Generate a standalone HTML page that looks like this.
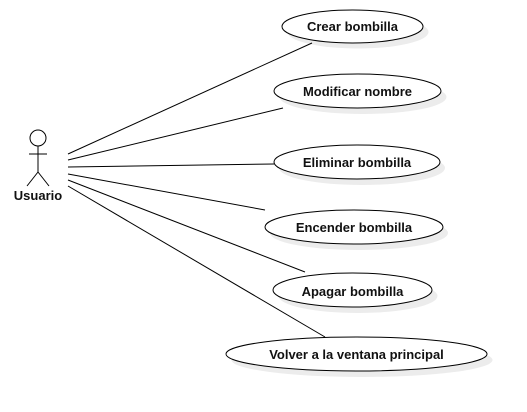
<!DOCTYPE html>
<html><head><style>body{margin:0;background:#fff}svg{display:block}text{font-family:"Liberation Sans",sans-serif;font-weight:bold;font-size:13px;fill:#111}</style></head><body>
<svg width="527" height="412" viewBox="0 0 527 412">
<g fill="#ececec" stroke="none">
<ellipse cx="358" cy="32" rx="70.5" ry="16.5"/>
<ellipse cx="363" cy="97" rx="83.5" ry="17"/>
<ellipse cx="362" cy="168" rx="83" ry="17"/>
<ellipse cx="359" cy="233" rx="89" ry="17"/>
<ellipse cx="358" cy="296" rx="79.5" ry="17"/>
<ellipse cx="362" cy="360" rx="130.5" ry="17"/>
</g>
<g fill="#fff" stroke="#000" stroke-width="1">
<ellipse cx="352.5" cy="26.5" rx="70.5" ry="16.5"/>
<ellipse cx="357.5" cy="91" rx="83.5" ry="17"/>
<ellipse cx="357" cy="162" rx="83" ry="17"/>
<ellipse cx="354" cy="227" rx="89" ry="17"/>
<ellipse cx="352.5" cy="290" rx="79.5" ry="17"/>
<ellipse cx="356.5" cy="354" rx="130.5" ry="17"/>
</g>
<g stroke="#000" stroke-width="1" fill="none">
<line x1="68" y1="154" x2="312" y2="43"/>
<line x1="68" y1="160" x2="283" y2="108"/>
<line x1="68" y1="167" x2="274" y2="164"/>
<line x1="68" y1="174" x2="265" y2="210"/>
<line x1="68" y1="180" x2="305" y2="272"/>
<line x1="68" y1="186" x2="325" y2="337"/>
<circle cx="38" cy="138" r="8" fill="#fff"/>
<line x1="38" y1="146" x2="38" y2="172"/>
<line x1="29" y1="154" x2="47" y2="154"/>
<line x1="38" y1="172" x2="27" y2="186"/>
<line x1="38" y1="172" x2="49" y2="186"/>
</g>
<text x="38" y="200" text-anchor="middle">Usuario</text>
<g text-anchor="middle">
<text x="352.5" y="31">Crear bombilla</text>
<text x="357.5" y="96">Modificar nombre</text>
<text x="357" y="167">Eliminar bombilla</text>
<text x="354" y="232">Encender bombilla</text>
<text x="352.5" y="296">Apagar bombilla</text>
<text x="356.5" y="359">Volver a la ventana principal</text>
</g>
</svg>
</body></html>
